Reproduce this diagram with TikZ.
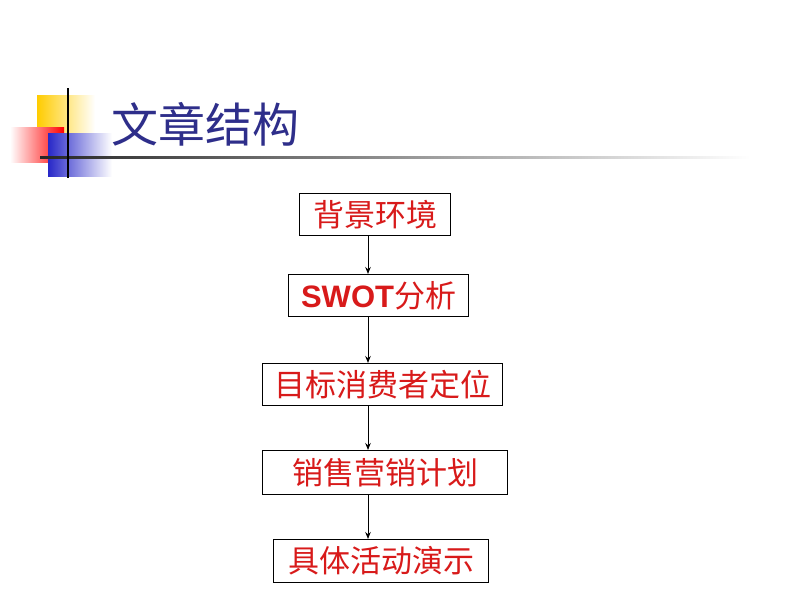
\documentclass[tikz,border=0pt]{standalone}
\usepackage{fontspec}
\newfontfamily\cjk{Noto Sans CJK SC}
\newfontfamily\arialb{Liberation Sans}
\usetikzlibrary{arrows.meta}
\definecolor{titleblue}{HTML}{2E2E8A}
\definecolor{boxred}{HTML}{D81A1A}
\tikzset{
  stepbox/.style={draw=black, line width=1.1pt, fill=white, inner sep=0pt, anchor=north west, text=boxred, font=\cjk\fontsize{31}{34}\selectfont},
  flow/.style={-{Stealth[length=7pt,width=5.5pt]}, line width=1pt, black}
}
\begin{document}
\begin{tikzpicture}[x=1pt,y=-1pt]
\useasboundingbox (0,0) rectangle (800,600);
\fill[white] (0,0) rectangle (800,600);
% decoration
\shade[left color={rgb,255:red,255;green,204;blue,0}, right color=white] (37,95) rectangle (95,147);
\shade[left color=white, right color=red] (10,127) rectangle (64,162);
\shade[left color={rgb,255:red,40;green,40;blue,200}, right color=white] (48,133) rectangle (112,176);
\shade[left color=black!85, right color=white] (40,156) rectangle (750,158.5);
\draw[line width=2pt, black] (68,88) -- (68,178);
% title
\node[anchor=west, text=titleblue, font=\cjk\fontsize{47}{52}\selectfont, inner sep=0pt] (title) at (111,124) {文章结构};
% boxes
\node[stepbox, minimum width=151pt, minimum height=42pt] (b1) at (299,193) {背景环境};
\node[stepbox, minimum width=180pt, minimum height=42pt] (b2) at (288,274) {{\arialb\bfseries SWOT}分析};
\node[stepbox, minimum width=240pt, minimum height=42pt] (b3) at (262,363) {目标消费者定位};
\node[stepbox, minimum width=245pt, minimum height=44pt] (b4) at (262,450) {销售营销计划};
\node[stepbox, minimum width=215pt, minimum height=43pt] (b5) at (273,539) {具体活动演示};
\coordinate (ax) at (368,0);
\draw[flow] (b1.south -| ax) -- (b2.north -| ax);
\draw[flow] (b2.south -| ax) -- (b3.north -| ax);
\draw[flow] (b3.south -| ax) -- (b4.north -| ax);
\draw[flow] (b4.south -| ax) -- (b5.north -| ax);
\end{tikzpicture}
\end{document}
